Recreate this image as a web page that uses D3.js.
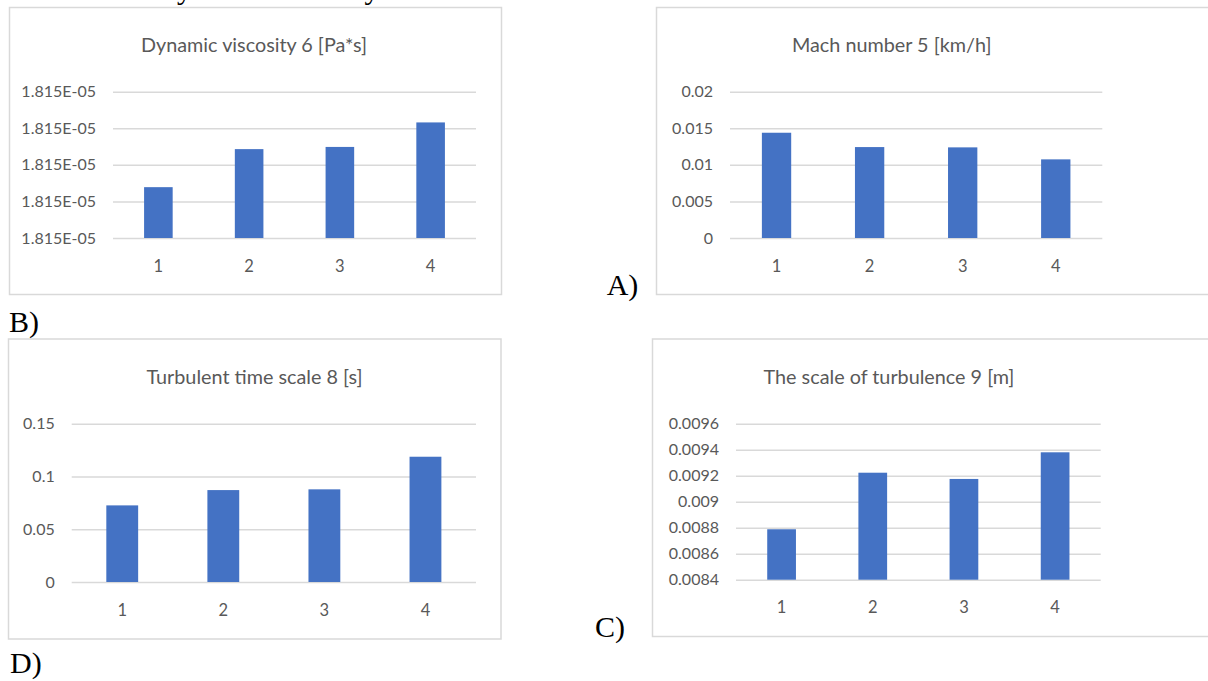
<!DOCTYPE html>
<html>
<head>
<meta charset="utf-8">
<script src="https://cdn.jsdelivr.net/npm/d3@7"></script>
<style>
  body { margin: 0; background: #fff; }
  svg { display: block; }
</style>
</head>
<body>
<div id="vis-container"></div>
<script>
// categories shared by all four panels
var categories = ["1", "2", "3", "4"];

// top left
var viscosityTitle = "Dynamic viscosity 6 [Pa*s]";
var viscosityValues = [1.815139e-5, 1.815243e-5, 1.815249e-5, 1.815316e-5];
var viscosityTicks = [1.8150e-5, 1.8151e-5, 1.8152e-5, 1.8153e-5, 1.8154e-5];

// top right
var machTitle = "Mach number 5 [km/h]";
var machValues = [0.01439, 0.01243, 0.01239, 0.01075];
var machTicks = [0, 0.005, 0.01, 0.015, 0.02];

// bottom left
var timeScaleTitle = "Turbulent time scale 8 [s]";
var timeScaleValues = [0.0726, 0.0871, 0.0878, 0.1187];
var timeScaleTicks = [0, 0.05, 0.1, 0.15];

// bottom right
var turbScaleTitle = "The scale of turbulence 9 [m]";
var turbScaleValues = [0.008788, 0.009223, 0.009175, 0.00938];
var turbScaleTicks = [0.0084, 0.0086, 0.0088, 0.009, 0.0092, 0.0094, 0.0096];

var panelLabels = ["A)", "B)", "C)", "D)"];
var cutText = "increase in the dynamic viscosity.";

var width = 1208, height = 681;
var barColor = "#4472c4";
var gridColor = "#d9d9d9";
var textColor = "#595959";
var sansFont = "Lato, 'Open Sans', sans-serif";
var serifFont = "'Liberation Serif', 'Times New Roman', serif";

// Excel style scientific number, e.g. 1.815E-05
function excelExp(d) {
  var s = d.toExponential(3).split("e");
  var e = +s[1];
  var sign = e < 0 ? "-" : "+";
  e = Math.abs(e);
  return s[0] + "E" + sign + (e < 10 ? "0" + e : e);
}
function plainNum(d) {
  return String(+d.toFixed(6));
}

var svg = d3.select("#vis-container").append("svg")
  .attr("width", width)
  .attr("height", height);

// line of body text, only its lowest part shows at the top of the page
svg.append("text")
  .attr("x", 385)
  .attr("y", -1)
  .attr("text-anchor", "end")
  .style("font-family", serifFont)
  .style("font-size", "30px")
  .text(cutText);

var panels = [
  { title: viscosityTitle, values: viscosityValues, ticks: viscosityTicks, fmt: excelExp,
    box: [9.5, 7.5, 492, 287], plot: [113, 476, 91.7, 238], titleX: 254, titleY: 52 },
  { title: machTitle, values: machValues, ticks: machTicks, fmt: plainNum,
    box: [656.5, 7.5, 600, 287], plot: [730, 1102.3, 91.7, 238], titleX: 891.7, titleY: 52 },
  { title: timeScaleTitle, values: timeScaleValues, ticks: timeScaleTicks, fmt: plainNum,
    box: [8.5, 339, 492.5, 300], plot: [71.7, 476, 423.7, 582], titleX: 254.5, titleY: 384 },
  { title: turbScaleTitle, values: turbScaleValues, ticks: turbScaleTicks, fmt: plainNum,
    box: [652.5, 339, 600, 297.5], plot: [736, 1100.7, 423.7, 579.7], titleX: 889, titleY: 384 }
];

panels.forEach(drawPanel);

function drawPanel(p) {
  var g = svg.append("g");

  g.append("rect")
    .attr("x", p.box[0])
    .attr("y", p.box[1])
    .attr("width", p.box[2])
    .attr("height", p.box[3])
    .attr("fill", "#fff")
    .attr("stroke", gridColor)
    .attr("stroke-width", 1.5);

  g.append("text")
    .attr("x", p.titleX)
    .attr("y", p.titleY)
    .attr("text-anchor", "middle")
    .attr("fill", textColor)
    .style("font-family", sansFont)
    .style("font-size", "19.8px")
    .text(p.title);

  var left = p.plot[0], right = p.plot[1], top = p.plot[2], bottom = p.plot[3];

  var x = d3.scaleBand()
    .domain(categories)
    .range([left, right])
    .padding(0);

  var y = d3.scaleLinear()
    .domain([p.ticks[0], p.ticks[p.ticks.length - 1]])
    .range([bottom, top]);

  // Y axis + gridlines
  var yAxis = g.append("g")
    .attr("transform", "translate(" + left + ",0)")
    .call(d3.axisLeft(y)
      .tickValues(p.ticks)
      .tickSize(-(right - left))
      .tickPadding(17)
      .tickFormat(p.fmt));
  yAxis.select(".domain").remove();
  yAxis.selectAll(".tick line")
    .attr("stroke", gridColor)
    .attr("stroke-width", 1.5);
  yAxis.selectAll(".tick text")
    .attr("fill", textColor)
    .style("font-family", sansFont)
    .style("font-size", "16px");

  // bars
  var barW = x.bandwidth() * 0.315;
  g.append("g")
    .selectAll("rect")
    .data(p.values)
    .enter()
    .append("rect")
    .attr("x", (d, i) => x(categories[i]) + (x.bandwidth() - barW) / 2)
    .attr("y", d => y(d))
    .attr("width", barW)
    .attr("height", d => y(p.ticks[0]) - y(d))
    .attr("fill", barColor);

  // X axis
  var xAxis = g.append("g")
    .attr("transform", "translate(0," + bottom + ")")
    .call(d3.axisBottom(x).tickSize(0).tickPadding(22));
  xAxis.select(".domain").remove();
  xAxis.selectAll(".tick text")
    .attr("fill", textColor)
    .style("font-family", sansFont)
    .style("font-size", "16.5px");
}

// panel letters
var labelPos = [[606.7, 295], [9, 331.5], [595, 637], [10, 673]];
svg.append("g")
  .selectAll("text")
  .data(panelLabels)
  .enter()
  .append("text")
  .attr("x", (d, i) => labelPos[i][0])
  .attr("y", (d, i) => labelPos[i][1])
  .style("font-family", serifFont)
  .style("font-size", "30px")
  .attr("fill", "#000")
  .text(d => d);
</script>
</body>
</html>
